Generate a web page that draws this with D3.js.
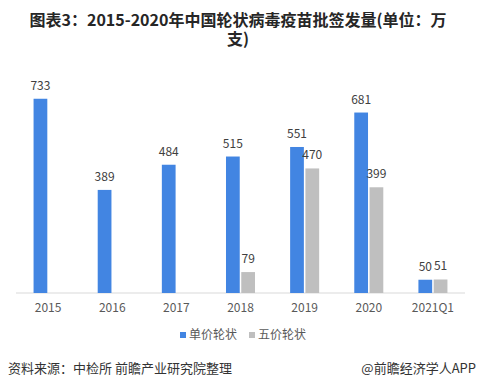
<!DOCTYPE html>
<html>
<head>
<meta charset="utf-8">
<script src="https://cdn.jsdelivr.net/npm/d3@7"></script>
<style>
  body { margin: 0; background: #fff; }
  text { font-family: "Noto Sans CJK SC", "Noto Sans", sans-serif; }
</style>
</head>
<body>
<div id="chart"></div>
<script>
// Data
const categories = ["2015", "2016", "2017", "2018", "2019", "2020", "2021Q1"];
const monovalent = [733, 389, 484, 515, 551, 681, 50];   // 单价轮状
const pentavalent = [null, null, null, 79, 470, 399, 51]; // 五价轮状
const seriesNames = ["单价轮状", "五价轮状"];
const titleLines = ["图表3：2015-2020年中国轮状病毒疫苗批签发量(单位：万", "支)"];
const colors = ["#4285e2", "#bfbfbf"];

const width = 478;
const height = 389;
const margin = { top: 81, right: 13, bottom: 96, left: 16 };
const baseY = height - margin.bottom;

const svg = d3.select("#chart").append("svg")
    .attr("width", width)
    .attr("height", height);

// Title, wrapped onto two lines like the original
svg.selectAll(".title")
    .data(titleLines)
    .enter()
    .append("text")
    .attr("class", "title")
    .attr("x", 238)
    .attr("y", (d, i) => 26 + i * 19)
    .attr("text-anchor", "middle")
    .attr("font-size", 16)
    .attr("font-weight", "bold")
    .attr("fill", "#262626")
    .text(d => d);

// Scales
const x = d3.scaleBand()
    .domain(categories)
    .range([margin.left, width - margin.right])
    .paddingInner(0.5)
    .paddingOuter(0.25);

const xSub = d3.scaleBand()
    .domain([0, 1])
    .range([0, x.bandwidth()])
    .padding(0.1);

const y = d3.scaleLinear()
    .domain([0, 800])
    .range([baseY, margin.top]);

// Axis
const xAxis = svg.append("g")
    .attr("transform", `translate(0,${baseY})`)
    .call(d3.axisBottom(x).tickSize(0).tickPadding(10));
xAxis.select(".domain").attr("stroke", "#d9d9d9").attr("d", `M${margin.left},0H${width - margin.right}`);
xAxis.selectAll("text")
    .attr("font-size", 12)
    .attr("fill", "#595959")
    .attr("font-family", "\"Noto Sans CJK SC\", sans-serif");

// Bars
const series = [monovalent, pentavalent];
series.forEach((vals, s) => {
    const pts = categories.map((c, i) => ({ c, v: vals[i] })).filter(d => d.v != null);
    const g = svg.append("g");
    g.selectAll("rect")
        .data(pts)
        .enter()
        .append("rect")
        .attr("x", d => x(d.c) + xSub(s))
        .attr("y", d => y(d.v))
        .attr("width", xSub.bandwidth())
        .attr("height", d => baseY - y(d.v))
        .attr("fill", colors[s]);
    g.selectAll("text")
        .data(pts)
        .enter()
        .append("text")
        .attr("x", d => x(d.c) + xSub(s) + xSub.bandwidth() / 2)
        .attr("y", d => y(d.v) - 9)
        .attr("text-anchor", "middle")
        .attr("font-size", 12)
        .attr("fill", "#404040")
        .text(d => d.v);
});

// Legend
const legendX = [180, 249];
seriesNames.forEach((name, i) => {
    svg.append("rect")
        .attr("x", legendX[i])
        .attr("y", 332)
        .attr("width", 6)
        .attr("height", 6)
        .attr("fill", colors[i]);
    svg.append("text")
        .attr("x", legendX[i] + 9)
        .attr("y", 339)
        .attr("font-size", 12)
        .attr("fill", "#595959")
        .text(name);
});

// Footer
svg.append("text")
    .attr("x", 8)
    .attr("y", 373)
    .attr("font-size", 13)
    .attr("fill", "#333")
    .text("资料来源：中检所 前瞻产业研究院整理");
svg.append("text")
    .attr("x", 476)
    .attr("y", 373)
    .attr("text-anchor", "end")
    .attr("font-size", 13)
    .attr("fill", "#333")
    .text("@前瞻经济学人APP");
</script>
</body>
</html>
